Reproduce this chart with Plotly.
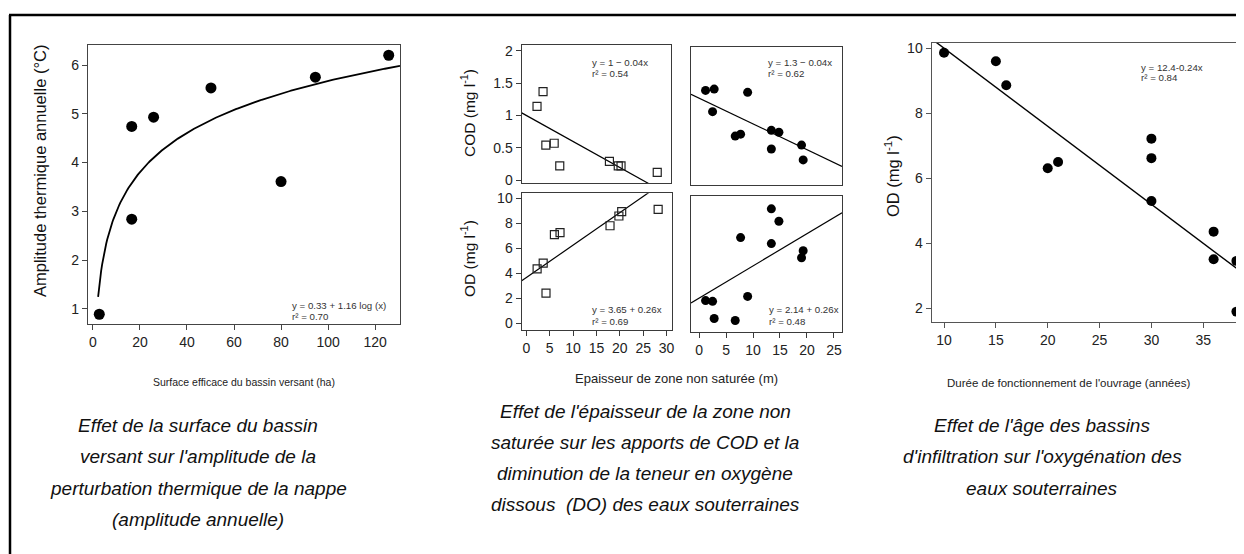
import numpy as np
import plotly.graph_objects as go

# The page body has an 8px margin: figure is sized to fit and coordinates shifted.
OFF = 8
W, H = 1244 - OFF, 554 - OFF

# ---------------- data ----------------
# Panel 1: surface du bassin versant (ha) vs amplitude thermique (°C)
surface_ha = [2.7, 16.5, 16.5, 25.8, 50.2, 80.0, 94.6, 125.8]
amplitude_c = [0.89, 4.74, 2.84, 4.93, 5.53, 3.61, 5.75, 6.20]
fit1_a, fit1_b = 0.33, 1.16          # y = 0.33 + 1.16 log(x)

# Panel 2 left column (open squares)
ezns_left = [2.3, 3.6, 4.2, 6.0, 7.2, 17.9, 19.8, 20.4, 28.2]
cod_left = [1.14, 1.37, 0.54, 0.57, 0.22, 0.29, 0.22, 0.22, 0.12]
od_left = [4.34, 4.80, 2.40, 7.09, 7.25, 7.80, 8.58, 8.93, 9.12]
# Panel 2 right column (filled circles)
ezns_right = [1.2, 2.5, 2.8, 6.7, 7.7, 9.0, 13.4, 13.4, 14.8, 19.0, 19.3]
cod_right = [1.42, 1.09, 1.44, 0.71, 0.74, 1.39, 0.80, 0.51, 0.77, 0.57, 0.34]
od_right = [1.94, 1.88, 0.50, 0.34, 7.02, 2.28, 9.34, 6.54, 8.34, 5.40, 5.96]
fit_cod_left = (1.0, -0.04)
fit_cod_right = (1.3, -0.04)
fit_od_left = (3.65, 0.26)
fit_od_right = (2.14, 0.26)

# Panel 3: durée de fonctionnement (années) vs OD
age_years = [10, 15, 16, 20, 21, 30, 30, 30, 36, 36, 38.2, 38.2]
od_age = [9.86, 9.60, 8.86, 6.31, 6.50, 7.22, 6.62, 5.30, 4.36, 3.51, 3.46, 1.90]
fit3 = (12.4, -0.24)

# tick labels
p1_xticks = [0, 20, 40, 60, 80, 100, 120]
p1_yticks = [1, 2, 3, 4, 5, 6]
p2_cod_ticks = [0, 0.5, 1, 1.5, 2]
p2_od_ticks = [0, 2, 4, 6, 8, 10]
p2_xl_ticks = [0, 5, 10, 15, 20, 25, 30]
p2_xr_ticks = [0, 5, 10, 15, 20, 25]
p3_xticks = [10, 15, 20, 25, 30, 35]
p3_yticks = [2, 4, 6, 8, 10]

# ---------------- helpers ----------------
def px(a):
    return min(max((a - OFF) / W, 0), 1)

def py(a):
    return min(max(1 - (a - OFF) / H, 0), 1)

def dx(a, b):
    return [px(a), px(b)]

def dy(top, bot):
    return [py(bot), py(top)]

FONT = "Liberation Sans, Arial, sans-serif"
FRAME = "#3a3a3a"

def axis(domain, rng, tickvals=None, anchor=None, mirror=True, ticks=True,
         labels=True, ticktext=None, color=FRAME):
    d = dict(domain=domain, range=rng, showline=True, linecolor=color,
             linewidth=1.4, mirror=mirror, showgrid=False, zeroline=False,
             automargin=False, anchor=anchor,
             tickfont=dict(family=FONT, size=14, color="#222"))
    if ticks and tickvals is not None:
        d.update(tickmode="array", tickvals=tickvals, ticks="outside",
                 ticklen=5, tickwidth=1, tickcolor=color,
                 showticklabels=labels)
        if ticktext is not None:
            d["ticktext"] = ticktext
    else:
        d.update(ticks="", showticklabels=False)
    return d

fig = go.Figure()

circle = dict(symbol="circle", color="black", size=10)
square = dict(symbol="square-open", color="#222", size=8, line=dict(width=1.2, color="#222"))

# Panel 1
x1_rng = [-2.1, 130.6]
curve_x = np.linspace(2.2, x1_rng[1], 300)
curve_y = fit1_a + fit1_b * np.log(curve_x)
fig.add_trace(go.Scatter(x=curve_x, y=curve_y, mode="lines",
                         line=dict(color="black", width=1.8), xaxis="x", yaxis="y"))
fig.add_trace(go.Scatter(x=surface_ha, y=amplitude_c, mode="markers",
                         marker=dict(circle, size=11), xaxis="x", yaxis="y"))

# Panel 2
xl_rng = [-1.0, 31.1]
xr_rng = [-1.5, 26.5]
def fitline(coef, rng):
    xs = np.array(rng)
    return xs, coef[0] + coef[1] * xs

lx, ly = fitline(fit_cod_left, xl_rng)
fig.add_trace(go.Scatter(x=lx, y=ly, mode="lines", line=dict(color="black", width=1.2),
                         xaxis="x2", yaxis="y2"))
fig.add_trace(go.Scatter(x=ezns_left, y=cod_left, mode="markers", marker=square,
                         xaxis="x2", yaxis="y2"))
lx, ly = fitline(fit_cod_right, xr_rng)
fig.add_trace(go.Scatter(x=lx, y=ly, mode="lines", line=dict(color="black", width=1.2),
                         xaxis="x3", yaxis="y3"))
fig.add_trace(go.Scatter(x=ezns_right, y=cod_right, mode="markers", marker=dict(circle, size=9),
                         xaxis="x3", yaxis="y3"))
lx, ly = fitline(fit_od_left, xl_rng)
fig.add_trace(go.Scatter(x=lx, y=ly, mode="lines", line=dict(color="black", width=1.2),
                         xaxis="x4", yaxis="y4"))
fig.add_trace(go.Scatter(x=ezns_left, y=od_left, mode="markers", marker=square,
                         xaxis="x4", yaxis="y4"))
lx, ly = fitline(fit_od_right, xr_rng)
fig.add_trace(go.Scatter(x=lx, y=ly, mode="lines", line=dict(color="black", width=1.2),
                         xaxis="x5", yaxis="y5"))
fig.add_trace(go.Scatter(x=ezns_right, y=od_right, mode="markers", marker=dict(circle, size=9),
                         xaxis="x5", yaxis="y5"))

# Panel 3
x3_rng = [8.81, 38.93]
lx, ly = fitline(fit3, x3_rng)
fig.add_trace(go.Scatter(x=lx, y=ly, mode="lines", line=dict(color="black", width=1.4),
                         xaxis="x6", yaxis="y6"))
fig.add_trace(go.Scatter(x=age_years, y=od_age, mode="markers", marker=dict(circle, size=10),
                         xaxis="x6", yaxis="y6"))

cod_rng = [-0.05, 2.09]
od_rng = [-0.55, 10.4]

layout_axes = dict(
    xaxis=axis(dx(88, 400), x1_rng, p1_xticks, anchor="y", color="#444"),
    yaxis=axis(dy(45, 324), [0.69, 6.41], p1_yticks, anchor="x", color="#444"),
    xaxis2=axis(dx(521.7, 670.7), xl_rng, None, anchor="y2"),
    yaxis2=axis(dy(45, 183.3), cod_rng, p2_cod_ticks, anchor="x2",
                ticktext=["0", "0.5", "1", "1.5", "2"]),
    xaxis3=axis(dx(691, 842), xr_rng, None, anchor="y3"),
    yaxis3=axis(dy(47.3, 185), cod_rng, None, anchor="x3"),
    xaxis4=axis(dx(521.7, 671.7), xl_rng, p2_xl_ticks, anchor="y4"),
    yaxis4=axis(dy(193.3, 330), od_rng, p2_od_ticks, anchor="x4"),
    xaxis5=axis(dx(691, 842), xr_rng, p2_xr_ticks, anchor="y5"),
    yaxis5=axis(dy(195.7, 331.5), od_rng, None, anchor="x5"),
    xaxis6=axis(dx(931.7, 1244), x3_rng, p3_xticks, anchor="y6", color="#555"),
    yaxis6=axis(dy(42.7, 321.7), [1.59, 10.17], p3_yticks, anchor="x6", mirror=False, color="#555"),
)

annotations = []

def txt(text, x, y, size, angle=0, xanchor="center", color="#111", italic=False):
    annotations.append(dict(
        text=text, x=px(x), y=py(y), xref="paper", yref="paper",
        xanchor=xanchor, yanchor="middle", showarrow=False, textangle=angle,
        font=dict(family=FONT, size=size, color=color,
                  style="italic" if italic else "normal")))

# axis titles
txt("Amplitude thermique annuelle (°C)", 40, 171, 16.5, angle=-90)
txt("COD (mg l<sup>-1</sup>)", 468, 113, 15.5, angle=-90)
txt("OD (mg l<sup>-1</sup>)", 468, 259, 15.5, angle=-90)
txt("OD (mg l<sup>-1</sup>)", 892, 176, 16.5, angle=-90)
txt("Surface efficace du bassin versant (ha)", 244, 382, 10.5, color="#222")
txt("Epaisseur de zone non saturée (m)", 676, 378, 13, color="#222")
txt("Durée de fonctionnement de l'ouvrage (années)", 1068, 383, 11.5, color="#222")

# equations
eq = "#333"
txt("y = 0.33 + 1.16 log (x)", 290, 305, 9.7, xanchor="left", color=eq)
txt("r² = 0.70", 290, 316, 9.7, xanchor="left", color=eq)
txt("y = 1 − 0.04x", 590, 63, 9.7, xanchor="left", color=eq)
txt("r² = 0.54", 590, 73, 9.7, xanchor="left", color=eq)
txt("y = 1.3 − 0.04x", 766, 63, 9.7, xanchor="left", color=eq)
txt("r² = 0.62", 766, 73, 9.7, xanchor="left", color=eq)
txt("y = 3.65 + 0.26x", 590, 309, 9.7, xanchor="left", color=eq)
txt("r² = 0.69", 590, 321, 9.7, xanchor="left", color=eq)
txt("y = 2.14 + 0.26x", 767, 309, 9.7, xanchor="left", color=eq)
txt("r² = 0.48", 767, 321, 9.7, xanchor="left", color=eq)
txt("y = 12.4-0.24x", 1139, 67, 9.7, xanchor="left", color=eq)
txt("r² = 0.84", 1139, 77, 9.7, xanchor="left", color=eq)

# captions
cap1 = ["Effet de la surface du bassin", "versant sur l'amplitude de la",
        "perturbation thermique de la nappe", "(amplitude annuelle)"]
cap2 = ["Effet de l'épaisseur de la zone non", "saturée sur les apports de COD et la",
        "diminution de la teneur en oxygène", "dissous  (DO) des eaux souterraines"]
cap3 = ["Effet de l'âge des bassins", "d'infiltration sur l'oxygénation des",
        "eaux souterraines"]
for i, line in enumerate(cap1):
    txt(line, 198, 425 + 31.5 * i, 19, italic=True)
for i, line in enumerate(cap2):
    txt(line, 645, 411 + 31 * i, 19, italic=True)
for i, line in enumerate(cap3):
    txt(line, 1042, 425 + 31.5 * i, 19, italic=True)

shapes = [dict(type="line", xref="paper", yref="paper", x0=px(10), x1=px(10),
               y0=0, y1=py(15), line=dict(color="black", width=2.5)),
          dict(type="line", xref="paper", yref="paper", x0=px(9), x1=1,
               y0=py(15), y1=py(15), line=dict(color="black", width=2.5))]

fig.update_layout(width=W, height=H, margin=dict(l=0, r=0, t=0, b=0),
                  paper_bgcolor="white", plot_bgcolor="white", showlegend=False,
                  annotations=annotations, shapes=shapes, **layout_axes)

fig.write_html("out.html")
